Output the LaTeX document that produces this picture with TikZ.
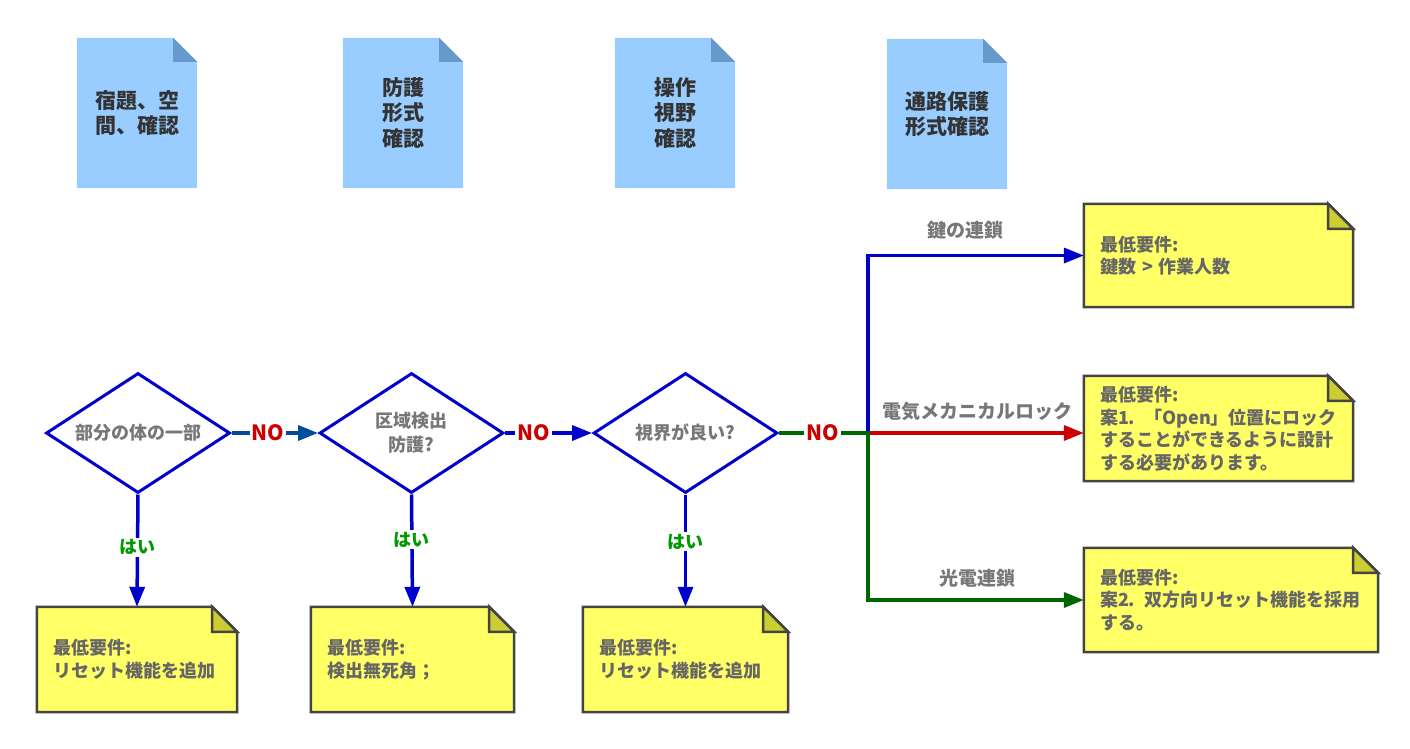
\documentclass[tikz,border=0pt]{standalone}
\usepackage{fontspec}
\setmainfont{Noto Sans CJK JP}
\usetikzlibrary{shapes.geometric,arrows.meta,backgrounds}
\definecolor{docblue}{HTML}{99CCFF}
\definecolor{docfold}{HTML}{6699CC}
\definecolor{noteyel}{HTML}{FFFF66}
\definecolor{notefoldc}{HTML}{CCCC33}
\definecolor{noteline}{HTML}{444444}
\definecolor{dblue}{HTML}{0000CC}
\definecolor{nblue}{HTML}{004C99}
\definecolor{nred}{HTML}{CC0000}
\definecolor{ngreen}{HTML}{006600}
\definecolor{ygreen}{HTML}{009900}
\definecolor{txtdark}{HTML}{333333}
\definecolor{txtgray}{HTML}{777777}
\definecolor{notetxt}{HTML}{666666}
\newcommand{\foldnote}[2]{%
  \filldraw[fill=noteyel,draw=noteline,line width=2.5pt,line join=miter]
    (#1.north west) -- ([xshift=-#2pt]#1.north east) -- ([yshift=-#2pt]#1.north east)
    -- (#1.south east) -- (#1.south west) -- cycle;
  \filldraw[fill=notefoldc,draw=noteline,line width=2.5pt,line join=miter]
    ([xshift=-#2pt]#1.north east) -- ([xshift=-#2pt,yshift=-#2pt]#1.north east)
    -- ([yshift=-#2pt]#1.north east) -- cycle;}
\newcommand{\folddoc}[2]{%
  \fill[docblue] (#1.north west) -- ([xshift=-#2pt]#1.north east) -- ([yshift=-#2pt]#1.north east)
    -- (#1.south east) -- (#1.south west) -- cycle;
  \fill[docfold] ([xshift=-#2pt]#1.north east) -- ([xshift=-#2pt,yshift=-#2pt]#1.north east)
    -- ([yshift=-#2pt]#1.north east) -- cycle;}
\begin{document}
\begin{tikzpicture}[x=1pt,y=-1pt,
  doc/.style={minimum width=120pt,minimum height=150pt,inner sep=0pt,align=center,
    font=\fontsize{21}{25.5}\selectfont\bfseries,text=txtdark},
  dec/.style={diamond,draw=dblue,line width=3pt,minimum width=184pt,minimum height=120pt,
    inner sep=0pt,aspect=1.53,align=center,font=\fontsize{18}{24}\selectfont\bfseries,text=txtgray},
  note/.style={inner xsep=16pt,inner ysep=0pt,align=left,
    font=\fontsize{18}{22.5}\selectfont\bfseries,text=notetxt},
  conn/.style={line width=3.5pt,-{Triangle[length=20pt,width=15pt]}},
  nolab/.style={fill=white,inner sep=2pt,text=nred,font=\fontsize{21}{21}\selectfont\bfseries},
  yeslab/.style={fill=white,inner sep=2pt,text=ygreen,font=\fontsize{18}{18}\selectfont\bfseries},
  edgelab/.style={text=txtgray,font=\fontsize{19}{19}\selectfont\bfseries}]
\useasboundingbox (0,0) rectangle (1410,749);

% header documents
\node[doc] (H1) at (137,113) {宿題、空\\間、確認};
\node[doc] (H2) at (403,113) {防護\\形式\\確認};
\node[doc] (H3) at (675,113) {操作\\視野\\確認};
\node[doc] (H4) at (947,114) {通路保護\\形式確認};

% decisions
\node[dec] (D1) at (138,433) {部分の体の一部};
\node[dec] (D2) at (411.5,433) {区域検出\\防護?};
\node[dec] (D3) at (685.5,433) {視界が良い?};

% notes
\node[note,text width=237pt,minimum height=103pt] (N1) at (1218.5,255.5) {最低要件:\\鍵数 > 作業人数};
\node[note,text width=237pt,minimum height=105pt] (N2) at (1218.5,428.5) {最低要件:\\\mbox{案1. 「Open」位置にロック}\\することができるように設計\\する必要があります。};
\node[note,text width=262pt,minimum height=104pt] (N3) at (1231,600) {最低要件:\\\mbox{案2. 双方向リセット機能を採用}\\する。};
\node[note,text width=168pt,minimum height=105pt] (B1) at (137,659.5) {最低要件:\\リセット機能を追加};
\node[note,text width=171pt,minimum height=105pt] (B2) at (412.5,659.5) {最低要件:\\検出無死角；};
\node[note,text width=173pt,minimum height=105pt] (B3) at (685.5,659.5) {最低要件:\\リセット機能を追加};

\begin{pgfonlayer}{background}
  \folddoc{H1}{24}\folddoc{H2}{24}\folddoc{H3}{24}\folddoc{H4}{24}
  \foldnote{N1}{25}\foldnote{N2}{25}\foldnote{N3}{25}
  \foldnote{B1}{25}\foldnote{B2}{25}\foldnote{B3}{25}
\end{pgfonlayer}

% edge labels
\node[edgelab] (L1) at (965,230) {鍵の連鎖};
\node[edgelab] (L2) at (977,411) {電気メカニカルロック};
\node[edgelab] (L3) at (977,578) {光電連鎖};

% connectors
\coordinate (J) at (868,433);
\draw[conn,nblue] (D1.east) -- node[nolab,pos=0.42] (no1) {NO} (D2.west);
\draw[conn,dblue] (D2.east) -- node[nolab,pos=0.33] (no2) {NO} (D3.west);
\draw[conn,dblue] (D3.east) -- (J) |- (N1.west);
\draw[conn,nred] (D3.east) -- (D3.east -| N2.west);
\draw[conn,ngreen] (D3.east) -- node[nolab,pos=0.49] (no3) {NO} (J) |- (N3.west);

\draw[conn,dblue] (D1.south) -- node[yeslab,pos=0.47] (y1) {はい} (B1.north);
\draw[conn,dblue] (D2.south) -- node[yeslab,pos=0.40] (y2) {はい} (B2.north);
\draw[conn,dblue] (D3.south) -- node[yeslab,pos=0.42] (y3) {はい} (B3.north);
\end{tikzpicture}
\end{document}
